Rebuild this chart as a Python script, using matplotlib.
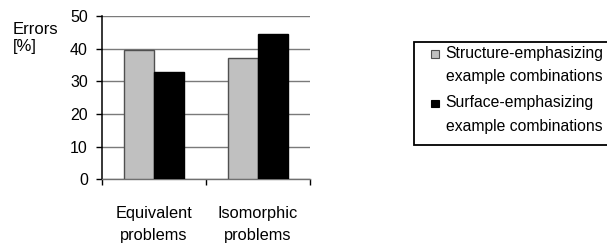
import matplotlib
matplotlib.use("Agg")
import matplotlib.pyplot as plt
from matplotlib.patches import Rectangle
import numpy as np

plt.rcParams['font.family'] = ['Liberation Sans', 'DejaVu Sans']

categories = ["Equivalent\nproblems", "Isomorphic\nproblems"]
series_names = ["Structure-emphasizing\nexample combinations",
                "Surface-emphasizing\nexample combinations"]
structure_vals = [39.7, 37.0]
surface_vals = [33.0, 44.5]
y_ticks = [0, 10, 20, 30, 40, 50]

W, H = 607, 246
fig = plt.figure(figsize=(W / 100, H / 100), dpi=100)

def fx(px):
    return px / W

def fy(py):
    return 1 - py / H

ax = fig.add_axes([fx(101.7), fy(179.3), fx(310) - fx(101.7), fy(16) - fy(179.3)])

x = np.arange(len(categories))
bw = 0.29
colors = ["#c0c0c0", "#000000"]
edges = ["#505050", "#000000"]
ax.bar(x - bw / 2, structure_vals, bw, color=colors[0], edgecolor=edges[0], linewidth=1.0, zorder=3)
ax.bar(x + bw / 2, surface_vals, bw, color=colors[1], edgecolor=edges[1], linewidth=1.0, zorder=3)

ax.set_xlim(-0.5, len(categories) - 0.5)
ax.set_ylim(0, 50)
ax.set_yticks(y_ticks)
ax.set_yticklabels([str(v) for v in y_ticks], fontsize=11.5)
ax.yaxis.grid(True, color="#7a7a7a", linewidth=1.0, zorder=0)
ax.set_axisbelow(True)

ax.set_xticks(x)
ax.set_xticklabels(categories, fontsize=11.8)
for t in ax.get_xticklabels():
    t.set_linespacing(1.65)
ax.tick_params(axis='x', which='major', length=0, pad=19)
ax.set_xticks(np.arange(-0.5, len(categories), 1.0), minor=True)
ax.tick_params(axis='x', which='minor', length=4, width=1.0, color='black', direction='out')
ax.tick_params(axis='y', length=4, width=1.0, color='black', pad=6)

for s in ['top', 'right']:
    ax.spines[s].set_visible(False)
ax.spines['left'].set_color('black')
ax.spines['left'].set_linewidth(1.1)
ax.spines['bottom'].set_color('#707070')
ax.spines['bottom'].set_linewidth(1.0)

fig.text(fx(13), fy(33.5), "Errors", fontsize=12, va='baseline', ha='left')
fig.text(fx(13), fy(51), "[%]", fontsize=12, va='baseline', ha='left')

# legend (manual)
frame = Rectangle((fx(413.5), fy(145)), fx(260), fy(41.7) - fy(145),
                  transform=fig.transFigure, facecolor='white', edgecolor='black',
                  linewidth=1.3, clip_on=False)
fig.patches.append(frame)
baselines = [(58.3, 81.0), (107.5, 131.5)]
for name, col, edc, (b1, b2) in zip(series_names, colors, edges, baselines):
    sq = Rectangle((fx(431), fy(b1 - 0.5)), fx(7.5), fy(b1 - 8) - fy(b1 - 0.5),
                   transform=fig.transFigure, facecolor=col, edgecolor=edc, linewidth=0.8)
    fig.patches.append(sq)
    l1, l2 = name.split("\n")
    fig.text(fx(445.5), fy(b1), l1, fontsize=11.3, va='baseline', ha='left')
    fig.text(fx(445.5), fy(b2), l2, fontsize=11.3, va='baseline', ha='left')

fig.savefig("out.png", dpi=100)
